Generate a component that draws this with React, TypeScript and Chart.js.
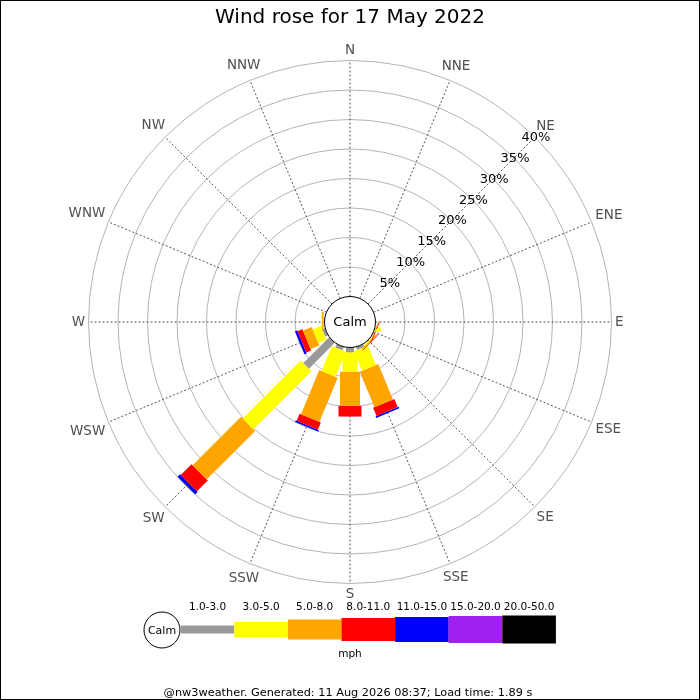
import { Chart, registerables } from "chart.js";
import { useEffect, useRef } from "react";

Chart.register(...registerables);

// 16 compass points, clockwise from north
const directions = ["N", "NNE", "NE", "ENE", "E", "ESE", "SE", "SSE", "S", "SSW", "SW", "WSW", "W", "WNW", "NW", "NNW"];
const speedBins = ["1.0-3.0", "3.0-5.0", "5.0-8.0", "8.0-11.0", "11.0-15.0", "15.0-20.0", "20.0-50.0"];
const ringTicks = [5, 10, 15, 20, 25, 30, 35, 40];

// % of the day per direction, one array per speed bin (mph)
const bin1to3 = [0, 0, 0, 0, 0, 0.05, 0.1, 0.5, 0.8, 0.6, 6.2, 0.5, 0.05, 0, 0, 0];
const bin3to5 = [0, 0, 0, 0, 0, 0.05, 0.2, 3.6, 3.3, 4.6, 13.9, 1.5, 0.1, 0, 0, 0];
const bin5to8 = [0, 0, 0, 0, 0, 0.1, 0.2, 6.5, 5.8, 8.1, 11.6, 1.6, 0.3, 0, 0, 0];
const bin8to11 = [0, 0, 0, 0, 0, 0.15, 0.1, 1.5, 1.8, 1.3, 2.6, 0.9, 0, 0, 0, 0];
const bin11to15 = [0, 0, 0, 0, 0, 0, 0, 0.3, 0, 0.3, 0.6, 0.4, 0, 0, 0, 0];
const bin15to20 = [0, 0, 0, 0, 0, 0, 0, 0, 0, 0, 0, 0, 0, 0, 0, 0];
const bin20to50 = [0, 0, 0, 0, 0, 0, 0, 0, 0, 0, 0, 0, 0, 0, 0, 0];

const bins = [bin1to3, bin3to5, bin5to8, bin8to11, bin11to15, bin15to20, bin20to50];
const binColors = ["#999999", "#ffff00", "#ffa500", "#ff0000", "#0000ff", "#a020f0", "#000000"];
const binWidths = [8, 15, 20, 23, 25, 27, 28];

const PX_PER_PCT = 5.9;
const CALM_R = 25.5 / PX_PER_PCT; // calm circle radius in % units
const SIZE = 700;
const CENTER_X = 350;
const CENTER_Y = 322;
const FONT = "'DejaVu Sans', sans-serif";

function toXY(dir: number, pct: number) {
    const a = (dir * Math.PI) / 8;
    const r = CALM_R + pct;
    return { x: r * Math.sin(a), y: r * Math.cos(a) };
}

const rosePlugin = {
    id: "rose",
    beforeDatasetsDraw(chart: any) {
        const { ctx, scales } = chart;
        const cx = scales.x.getPixelForValue(0);
        const cy = scales.y.getPixelForValue(0);
        const rad = (v: number) => scales.x.getPixelForValue(v) - cx;
        ctx.save();
        // rings
        ctx.strokeStyle = "#b4b4b4";
        ctx.lineWidth = 1;
        ringTicks.forEach((t) => {
            ctx.beginPath();
            ctx.arc(cx, cy, rad(CALM_R + t), 0, Math.PI * 2);
            ctx.stroke();
        });
        // spokes
        ctx.strokeStyle = "#555";
        ctx.setLineDash([2, 2]);
        const rIn = rad(CALM_R);
        const rOut = rad(CALM_R + ringTicks[ringTicks.length - 1]);
        directions.forEach((_, i) => {
            const a = (i * Math.PI) / 8;
            ctx.beginPath();
            ctx.moveTo(cx + rIn * Math.sin(a), cy - rIn * Math.cos(a));
            ctx.lineTo(cx + rOut * Math.sin(a), cy - rOut * Math.cos(a));
            ctx.stroke();
        });
        ctx.restore();
    },
    afterDatasetsDraw(chart: any) {
        const { ctx, scales } = chart;
        const cx = scales.x.getPixelForValue(0);
        const cy = scales.y.getPixelForValue(0);
        const rad = (v: number) => scales.x.getPixelForValue(v) - cx;
        const rOut = rad(CALM_R + ringTicks[ringTicks.length - 1]);
        ctx.save();

        // calm circle
        ctx.beginPath();
        ctx.arc(cx, cy, rad(CALM_R), 0, Math.PI * 2);
        ctx.fillStyle = "#fff";
        ctx.fill();
        ctx.strokeStyle = "#000";
        ctx.lineWidth = 1;
        ctx.stroke();
        ctx.fillStyle = "#000";
        ctx.font = `13px ${FONT}`;
        ctx.textAlign = "center";
        ctx.textBaseline = "middle";
        ctx.fillText("Calm", cx, cy + 1);

        // compass labels
        ctx.fillStyle = "#505050";
        ctx.font = `13.5px ${FONT}`;
        directions.forEach((d, i) => {
            const a = (i * Math.PI) / 8;
            const w = ctx.measureText(d).width;
            const r = rOut + 3.5 + (w / 2) * Math.abs(Math.sin(a)) + 7 * Math.abs(Math.cos(a));
            ctx.fillText(d, cx + r * Math.sin(a), cy - r * Math.cos(a) + 0.5);
        });

        // percent labels along NE
        ctx.fillStyle = "#000";
        ctx.font = `13px ${FONT}`;
        ringTicks.forEach((t) => {
            const r = rad(CALM_R + t);
            const a = Math.PI / 4;
            ctx.fillText(`${t}%`, cx + r * Math.sin(a) + 1, cy - r * Math.cos(a) + 0.5);
        });

        // title
        ctx.font = `20px ${FONT}`;
        ctx.fillText("Wind rose for 17 May 2022", 350, 18);

        // legend
        const ly = 629.5;
        ctx.beginPath();
        ctx.arc(162, 630, 18, 0, Math.PI * 2);
        ctx.fillStyle = "#fff";
        ctx.fill();
        ctx.strokeStyle = "#000";
        ctx.stroke();
        ctx.fillStyle = "#000";
        ctx.font = `11px ${FONT}`;
        ctx.fillText("Calm", 162, 631);
        const segW = 53.6;
        let lx = 180.7;
        ctx.font = `10.5px ${FONT}`;
        speedBins.forEach((b, k) => {
            ctx.fillStyle = binColors[k];
            ctx.fillRect(lx, ly - binWidths[k] / 2, segW, binWidths[k]);
            ctx.fillStyle = "#000";
            ctx.fillText(b, lx + segW / 2, 607);
            lx += segW;
        });
        ctx.fillText("mph", 350, 654);

        // footer
        ctx.font = `11.3px ${FONT}`;
        ctx.fillText("@nw3weather. Generated: 11 Aug 2026 08:37; Load time: 1.89 s", 348, 693);

        // frame
        ctx.strokeStyle = "#000";
        ctx.lineWidth = 1;
        ctx.strokeRect(0.5, 0.5, SIZE - 1, SIZE - 1);
        ctx.restore();
    },
};

export default function App() {
    const canvasRef = useRef<HTMLCanvasElement | null>(null);
    const chartRef = useRef<Chart | null>(null);

    useEffect(() => {
        document.body.style.margin = "0";
        const ctx = canvasRef.current?.getContext("2d");
        if (chartRef.current) {
            chartRef.current.destroy();
        }

        const datasets: any[] = [];
        directions.forEach((_, d) => {
            let start = 0;
            bins.forEach((bin, k) => {
                const v = bin[d];
                if (v > 0) {
                    datasets.push({
                        label: `${directions[d]} ${speedBins[k]}`,
                        data: [toXY(d, start), toXY(d, start + v)],
                        showLine: true,
                        borderColor: binColors[k],
                        backgroundColor: binColors[k],
                        borderWidth: binWidths[k],
                        borderCapStyle: "butt",
                        borderJoinStyle: "bevel",
                        // tiny tension avoids the fast path that collapses near-vertical segments
                        tension: 0.0001,
                        pointRadius: 0,
                        pointHoverRadius: 0,
                        fill: false,
                    });
                }
                start += v;
            });
        });

        const span = SIZE / PX_PER_PCT;
        chartRef.current = new Chart(ctx!, {
            type: "scatter",
            data: { datasets },
            options: {
                responsive: false,
                animation: false,
                events: [],
                layout: { padding: 0 },
                scales: {
                    x: { display: false, min: -CENTER_X / PX_PER_PCT, max: span - CENTER_X / PX_PER_PCT },
                    y: { display: false, min: -(SIZE - CENTER_Y) / PX_PER_PCT, max: CENTER_Y / PX_PER_PCT },
                },
                plugins: {
                    legend: { display: false },
                    tooltip: { enabled: false },
                },
            },
            plugins: [rosePlugin],
        });

        return () => {
            if (chartRef.current) {
                chartRef.current.destroy();
                chartRef.current = null;
            }
        };
    }, []);

    return (
        <div style={{ width: SIZE, height: SIZE, background: "#fff" }}>
            <canvas ref={canvasRef} width={SIZE} height={SIZE} style={{ display: "block" }} />
        </div>
    );
}
